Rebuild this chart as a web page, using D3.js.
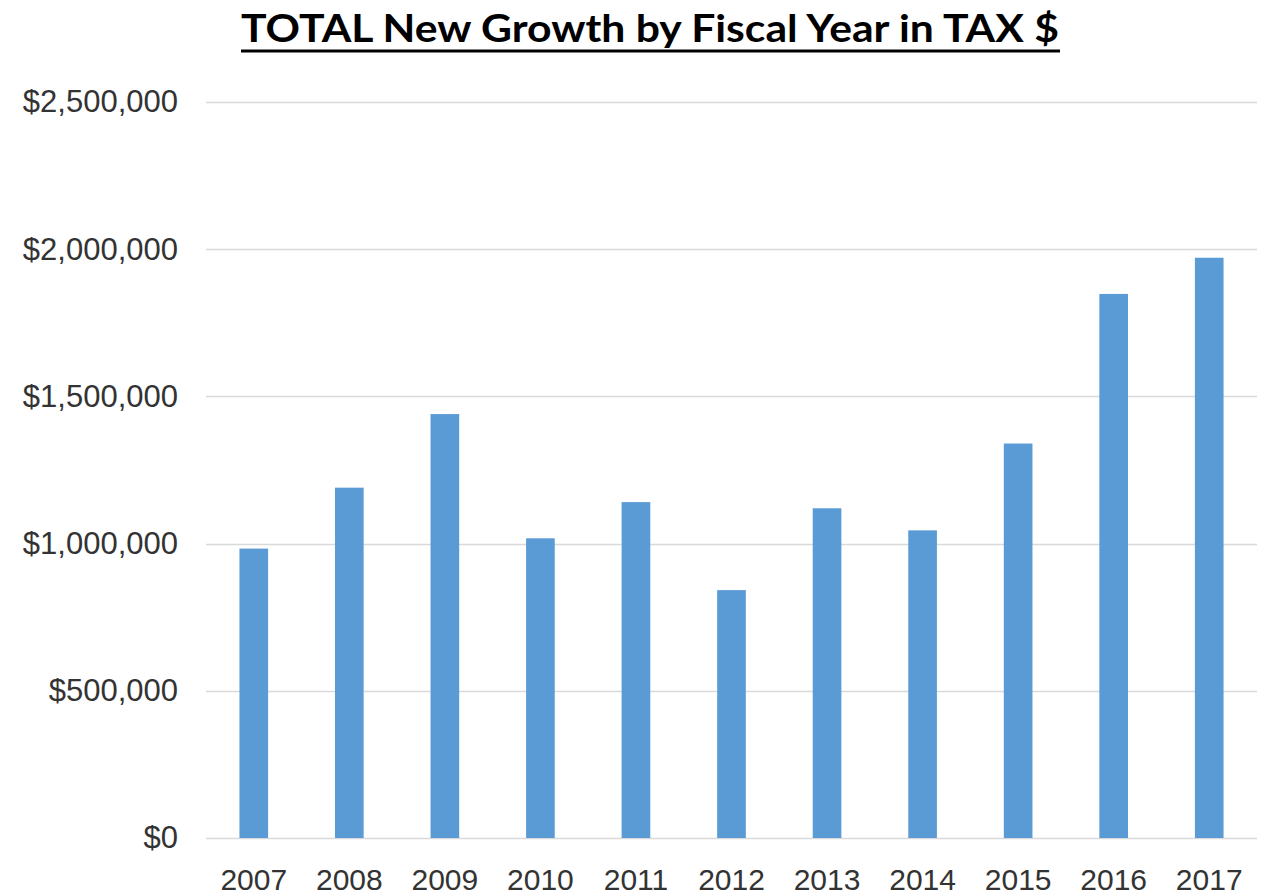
<!DOCTYPE html>
<html>
<head>
<meta charset="utf-8">
<script src="https://cdn.jsdelivr.net/npm/d3@7/dist/d3.min.js"></script>
<style>
  html, body { margin: 0; padding: 0; background: #fff; }
  svg { display: block; }
</style>
</head>
<body>
<svg id="chart" width="1268" height="896"></svg>
<script>
// Fiscal years and total new growth in tax dollars
const years = ["2007", "2008", "2009", "2010", "2011", "2012", "2013", "2014", "2015", "2016", "2017"];
const growth = [983000, 1190000, 1440000, 1018000, 1141000, 842000, 1120000, 1045000, 1340000, 1848000, 1971000];
const yTicks = [0, 500000, 1000000, 1500000, 2000000, 2500000];
const titleText = "TOTAL New Growth by Fiscal Year in TAX $";

const svg = d3.select("#chart");
const margin = { left: 206, right: 11, top: 102, bottom: 58 };
const W = 1268, H = 896;

const x = d3.scaleBand()
  .domain(years)
  .range([margin.left, W - margin.right])
  .paddingInner(0.70)
  .paddingOuter(0.35);

const y = d3.scaleLinear()
  .domain([0, 2500000])
  .range([H - margin.bottom, margin.top]);

const fmt = d => "$" + d3.format(",")(d);

// Horizontal gridlines
svg.append("g")
  .selectAll("line")
  .data(yTicks)
  .join("line")
  .attr("x1", margin.left)
  .attr("x2", W - margin.right)
  .attr("y1", d => Math.round(y(d)) + 0.5)
  .attr("y2", d => Math.round(y(d)) + 0.5)
  .attr("stroke", "#d9d9d9")
  .attr("stroke-width", 1.5);

// Y axis labels
const yAxis = d3.axisLeft(y).tickValues(yTicks).tickFormat(fmt).tickSize(0).tickPadding(0);
svg.append("g")
  .attr("transform", `translate(178,0)`)
  .call(yAxis)
  .call(g => g.select(".domain").remove())
  .selectAll("text")
  .attr("font-family", "'Liberation Sans', Arial, sans-serif")
  .attr("font-size", 31)
  .attr("fill", "#333");

// Bars
svg.append("g")
  .selectAll("rect")
  .data(years.map((yr, i) => ({ yr, v: growth[i] })))
  .join("rect")
  .attr("x", d => x(d.yr))
  .attr("width", x.bandwidth())
  .attr("y", d => y(d.v))
  .attr("height", d => y(0) - y(d.v))
  .attr("fill", "#5b9bd5");

// X axis labels
const xAxis = d3.axisBottom(x).tickSize(0).tickPadding(0);
svg.append("g")
  .attr("transform", `translate(0,${H - margin.bottom})`)
  .call(xAxis)
  .call(g => g.select(".domain").remove())
  .selectAll("text")
  .attr("dy", null)
  .attr("y", 52)
  .attr("font-family", "'Liberation Sans', Arial, sans-serif")
  .attr("font-size", 30)
  .attr("fill", "#333");

// Title with underline
svg.append("text")
  .attr("x", 650)
  .attr("y", 42)
  .attr("text-anchor", "middle")
  .attr("font-family", "Lato, 'Open Sans', sans-serif")
  .attr("font-weight", "bold")
  .attr("font-size", 38)
  .attr("fill", "#000")
  .attr("textLength", 818)
  .attr("lengthAdjust", "spacingAndGlyphs")
  .text(titleText);

svg.append("line")
  .attr("x1", 241)
  .attr("x2", 1060)
  .attr("y1", 51)
  .attr("y2", 51)
  .attr("stroke", "#000")
  .attr("stroke-width", 3);
</script>
</body>
</html>
